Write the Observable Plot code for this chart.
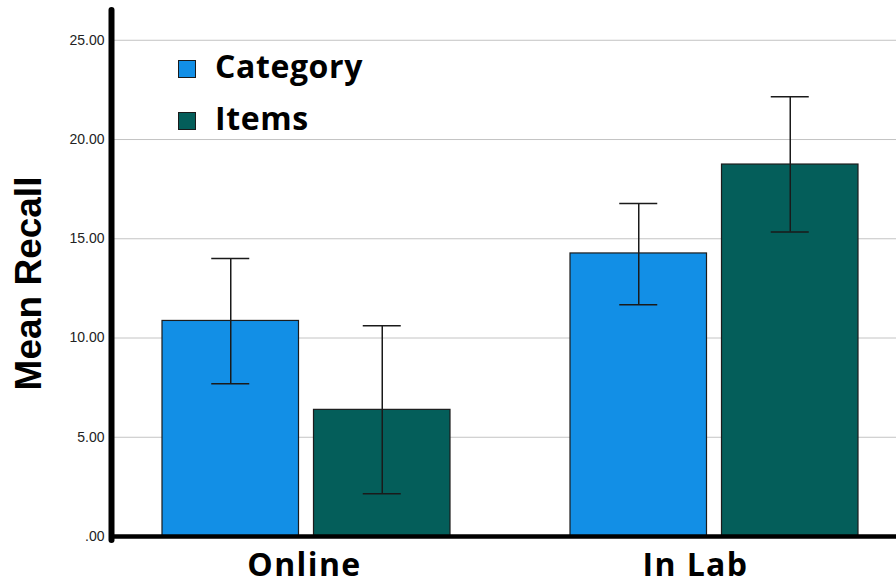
<!DOCTYPE html>
<html>
<head>
<meta charset="utf-8">
<script src="https://cdn.jsdelivr.net/npm/d3@7"></script>
<script src="https://cdn.jsdelivr.net/npm/@observablehq/plot@0.6"></script>
<style>
  html, body { margin: 0; padding: 0; background: #ffffff; }
  #chart { position: relative; width: 896px; height: 587px; overflow: hidden; }
  #chart svg { display: block; }
  .legend { position: absolute; left: 178px; top: 49px; font-family: "Open Sans", sans-serif; font-weight: 700; font-size: 32px; letter-spacing: 0.6px; color: #000; }
  .legend .row { display: flex; align-items: center; height: 34px; line-height: 34px; margin-bottom: 17.5px; }
  .legend .swatch { width: 16px; height: 16px; border: 1px solid #1a1a1a; margin-right: 19px; position: relative; top: 3px; }
</style>
</head>
<body>
<div id="chart"></div>
<script>
// Recall by testing setting and what was recalled
const groups = ["Online", "In Lab"];
const series = ["Category", "Items"];
const colors = ["#128FE6", "#045E5A"];

// means and error-bar limits, in group order
const categoryMean = [10.86, 14.26];
const categoryLow  = [7.70, 11.67];
const categoryHigh = [14.01, 16.78];
const itemsMean    = [6.38, 18.74];
const itemsLow     = [2.15, 15.34];
const itemsHigh    = [10.62, 22.16];

const yTicks = [0, 5, 10, 15, 20, 25];

const table = {
  Category: {mean: categoryMean, low: categoryLow, high: categoryHigh},
  Items: {mean: itemsMean, low: itemsLow, high: itemsHigh}
};

const rows = [];
groups.forEach((g, gi) => {
  series.forEach(s => {
    rows.push({group: g, series: s, mean: table[s].mean[gi], low: table[s].low[gi], high: table[s].high[gi]});
  });
});

// each group band holds two bars side by side with a small gap
const barInset = 151.5;      // inset that leaves one bar's width in the band
const barShift = 75.75;      // offset from band centre to a bar's centre
const capInset = 125;        // leaves a short cap at each error-bar end
const labelShift = [-2, -19]; // horizontal nudge of each group label

const marks = [
  Plot.ruleY(yTicks.filter(d => d > 0), {stroke: "#c4c4c4", strokeWidth: 1})
];

series.forEach((s, i) => {
  const data = rows.filter(d => d.series === s);
  const dx = i === 0 ? -barShift : barShift;
  marks.push(
    Plot.barY(data, {
      x: "group", y: "mean", fill: colors[i],
      stroke: "#1c1c1c", strokeWidth: 1.2,
      insetLeft: i === 0 ? 0 : barInset,
      insetRight: i === 0 ? barInset : 0
    }),
    Plot.ruleX(data, {x: "group", y1: "low", y2: "high", dx, stroke: "#1a1a1a", strokeWidth: 1.5}),
    Plot.tickY(data, {x: "group", y: "high", dx, insetLeft: capInset, insetRight: capInset, stroke: "#1a1a1a", strokeWidth: 1.5}),
    Plot.tickY(data, {x: "group", y: "low", dx, insetLeft: capInset, insetRight: capInset, stroke: "#1a1a1a", strokeWidth: 1.5})
  );
});

marks.push(Plot.ruleY([0], {stroke: "#000", strokeWidth: 4.5}));

groups.forEach((g, gi) => {
  marks.push(Plot.text([g], {
    x: d => d, frameAnchor: "bottom", lineAnchor: "top", dy: 17, dx: labelShift[gi],
    fontFamily: "Open Sans", fontWeight: 700, fontSize: 32, fill: "#000"
  }));
});

marks.push(Plot.text(["Mean Recall"], {
  frameAnchor: "left", rotate: -90, dx: -83, dy: 10,
  textAnchor: "middle", lineAnchor: "middle",
  fontFamily: "Liberation Sans", fontWeight: 700, fontSize: 37, fill: "#000"
}));

const plot = Plot.plot({
  width: 896,
  height: 587,
  marginTop: 10,
  marginBottom: 51,
  marginLeft: 112,
  marginRight: 0,
  style: {fontFamily: "Liberation Sans, Arial, sans-serif", fontSize: "14px", color: "#222222", background: "#ffffff"},
  x: {domain: groups, paddingInner: 0.295, paddingOuter: 0.1067, align: 0.562, axis: null},
  y: {domain: [0, 26.5], ticks: yTicks, tickFormat: d => d === 0 ? ".00" : d.toFixed(2), tickSize: 0, tickPadding: 8, label: null},
  marks
});

// slightly wider tracking on the group labels
d3.select(plot).selectAll("text")
  .filter(function() { return groups.includes(this.textContent); })
  .style("letter-spacing", "1.4px");

// heavy vertical axis line along the left edge of the frame
const ys = plot.scale("y");
const yScale = d3.scaleLinear(ys.domain, ys.range);
d3.select(plot).append("line")
  .attr("x1", 111.5).attr("x2", 111.5)
  .attr("y1", yScale(0) + 4).attr("y2", yScale(ys.domain[1]))
  .attr("stroke", "#000").attr("stroke-width", 6).attr("stroke-linecap", "round");

const chart = document.getElementById("chart");
chart.appendChild(plot);

// legend drawn over the upper-left corner of the plot area
const legend = d3.select(chart).append("div").attr("class", "legend");
series.forEach((s, i) => {
  const row = legend.append("div").attr("class", "row");
  row.append("span").attr("class", "swatch").style("background", colors[i]);
  row.append("span").text(s);
});
</script>
</body>
</html>
